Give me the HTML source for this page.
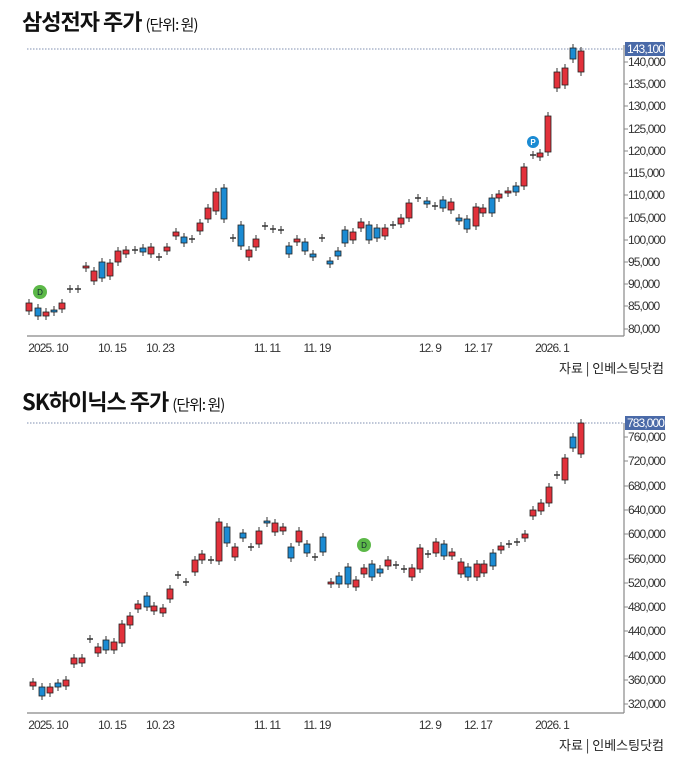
<!DOCTYPE html>
<html><head><meta charset="utf-8"><style>
body{margin:0;background:#fff;width:689px;height:756px;overflow:hidden;font-family:"Liberation Sans","Noto Sans CJK KR",sans-serif}
</style></head><body>
<svg id="s" width="689" height="756" xmlns="http://www.w3.org/2000/svg" font-family="Liberation Sans, Noto Sans CJK KR, sans-serif">
<text x="22" y="30" font-size="22" font-weight="bold" fill="#111" font-family="Noto Sans CJK KR, sans-serif" letter-spacing="-1">삼성전자 주가 <tspan font-size="15" font-weight="normal">(단위: 원)</tspan></text>
<text x="22" y="410" font-size="22" font-weight="bold" fill="#111" font-family="Noto Sans CJK KR, sans-serif" letter-spacing="-1">SK하이닉스 주가 <tspan font-size="15" font-weight="normal">(단위: 원)</tspan></text>
<text x="664" y="373" font-size="13" fill="#222" text-anchor="end" font-family="Noto Sans CJK KR, sans-serif">자료 | 인베스팅닷컴</text>
<text x="664" y="750" font-size="13" fill="#222" text-anchor="end" font-family="Noto Sans CJK KR, sans-serif">자료 | 인베스팅닷컴</text>
<g id="g"></g>
</svg>
<script>
var g=document.getElementById('g'),h='';
function L(x1,y1,x2,y2,c,w,d){h+='<line x1="'+x1+'" y1="'+y1+'" x2="'+x2+'" y2="'+y2+'" stroke="'+c+'" stroke-width="'+(w||1)+'"'+(d?' stroke-dasharray="'+d+'"':'')+'/>';}
function T(x,y,s,sz,a,c){h+='<text x="'+x+'" y="'+y+'" font-size="'+(sz||11)+'" fill="'+(c||'#333')+'" text-anchor="'+(a||'start')+'" letter-spacing="-0.9">'+s+'</text>';}
function axes(top,bot,ticks,lab,labY){
 L(27,bot,624,bot,'#888',1.2);L(624,top,624,bot,'#888',1.2);
 ticks.forEach(function(t){L(624,t[0],628,t[0],'#888');T(628,t[0]+4,t[1],12);});
 L(27,labY,623,labY,'#7f8fb0',1,'1.5,1.5');
 h+='<rect x="625" y="'+(labY-7)+'" width="40" height="14" fill="#4a6aa8"/>';T(627,labY+4,lab,12,'start','#fff');
 [['2025. 10',48],['10. 15',112],['10. 23',160],['11. 11',267],['11. 19',317],['12. 9',430],['12. 17',478],['2026. 1',552]].forEach(function(d){T(d[1],bot+16,d[0],12,'middle');});
}
function C(x,a,b,c){
 var t=Math.min(a,b),B=Math.max(a,b);
 L(x,t-4,x,B+4,'#333',1);
 if(c=='d'){L(x-3,t,x+3,t,'#333',1.5);return;}
 h+='<rect x="'+(x-3)+'" y="'+t+'" width="6" height="'+Math.max(B-t,2)+'" fill="'+(c=='r'?'#e2313b':'#1b8bd3')+'" stroke="#222" stroke-width="0.8"/>';
}
axes(45,336,[[62,'140,000'],[84,'135,000'],[106,'130,000'],[129,'125,000'],[151,'120,000'],[173,'115,000'],[195,'110,000'],[218,'105,000'],[240,'100,000'],[262,'95,000'],[284,'90,000'],[306,'85,000'],[329,'80,000']],'143,100',49);
axes(423,713,[[437,'760,000'],[461,'720,000'],[486,'680,000'],[510,'640,000'],[534,'600,000'],[559,'560,000'],[583,'520,000'],[607,'480,000'],[631,'440,000'],[656,'400,000'],[680,'360,000'],[704,'320,000']],'783,000',423);
var A=[[29,303,311,'r'],[38,308,316,'b'],[46,312,316,'r'],[54,310,312,'b'],[62,303,309,'r'],[70,289,289,'d'],[78,289,289,'d'],[86,266,268,'r'],[94,271,281,'r'],[102,262,278,'b'],[110,263,276,'r'],[118,251,262,'r'],[126,250,254,'r'],[135,250,250,'d'],[143,248,252,'b'],[151,247,254,'r'],[159,257,257,'d'],[167,247,251,'r'],[176,232,236,'r'],[184,237,243,'b'],[192,239,239,'d'],[200,223,231,'r'],[208,208,219,'r'],[216,192,211,'r'],[224,188,219,'b'],[233,238,238,'d'],[241,225,246,'b'],[249,250,257,'r'],[256,239,247,'r'],[265,226,226,'d'],[273,229,229,'d'],[281,230,230,'d'],[289,246,254,'b'],[297,239,242,'r'],[305,242,251,'b'],[313,254,257,'b'],[322,238,238,'d'],[330,261,264,'b'],[338,251,256,'b'],[345,230,243,'b'],[353,232,240,'r'],[361,222,228,'r'],[369,225,240,'b'],[377,228,238,'b'],[385,228,236,'r'],[393,225,225,'d'],[401,218,224,'r'],[409,203,218,'r'],[418,198,198,'d'],[427,201,204,'b'],[435,206,206,'d'],[443,200,208,'b'],[451,202,210,'r'],[459,218,221,'b'],[467,219,229,'b'],[476,207,226,'r'],[483,208,213,'r'],[492,198,213,'b'],[499,194,198,'r'],[508,191,193,'r'],[516,186,192,'b'],[524,167,186,'r'],[533,155,155,'d'],[540,153,157,'r'],[548,116,152,'r'],[557,72,88,'r'],[565,68,85,'r'],[573,48,59,'b'],[581,51,72,'r']];
A.forEach(function(c){C(c[0],c[1],c[2],c[3]);});
var B=[[33,682,686,'r'],[42,687,696,'b'],[50,687,693,'r'],[58,683,687,'b'],[66,680,686,'r'],[74,658,664,'r'],[82,658,663,'r'],[90,639,639,'d'],[98,647,653,'r'],[106,640,650,'b'],[114,642,650,'r'],[122,624,643,'r'],[130,616,625,'r'],[138,604,609,'r'],[147,596,607,'b'],[154,606,611,'r'],[163,608,613,'r'],[170,589,599,'r'],[178,575,575,'d'],[186,582,582,'d'],[195,560,572,'r'],[202,554,560,'r'],[211,560,560,'d'],[219,522,561,'r'],[227,527,543,'b'],[235,547,557,'r'],[243,533,538,'b'],[251,547,547,'d'],[259,531,544,'r'],[267,521,523,'b'],[275,523,532,'r'],[283,527,531,'r'],[291,547,558,'b'],[299,531,542,'r'],[307,544,553,'b'],[315,557,557,'d'],[323,537,552,'b'],[331,582,584,'r'],[339,576,584,'b'],[348,567,584,'b'],[356,580,587,'r'],[364,568,574,'r'],[372,564,577,'b'],[380,569,573,'b'],[388,560,566,'r'],[396,565,565,'d'],[404,569,569,'d'],[412,568,577,'r'],[420,548,569,'r'],[428,554,554,'d'],[436,542,553,'r'],[444,544,556,'b'],[452,552,556,'r'],[461,562,574,'r'],[468,567,577,'b'],[477,564,577,'r'],[484,564,573,'r'],[493,553,566,'b'],[501,546,550,'r'],[509,544,544,'d'],[517,542,542,'d'],[525,534,538,'r'],[533,510,516,'r'],[541,503,511,'r'],[549,487,503,'r'],[557,475,475,'d'],[565,458,480,'r'],[573,437,448,'b'],[581,423,454,'r']];
B.forEach(function(c){C(c[0],c[1],c[2],c[3]);});
h+='<circle cx="40" cy="292" r="7" fill="#5cb848"/><text x="40" y="295" font-size="8" text-anchor="middle" fill="#123">D</text>';
h+='<circle cx="533" cy="142" r="6" fill="#1b8bd3"/><text x="533" y="145" font-size="8" font-weight="bold" text-anchor="middle" fill="#fff">P</text>';
h+='<circle cx="364" cy="545" r="7" fill="#5cb848"/><text x="364" y="548" font-size="8" text-anchor="middle" fill="#123">D</text>';
g.innerHTML=h;
</script>
</body></html>
